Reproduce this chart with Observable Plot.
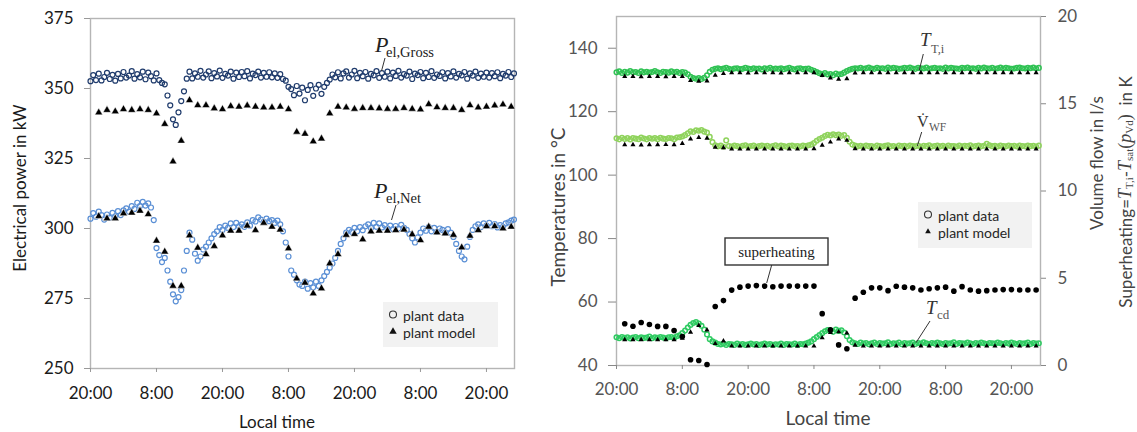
<!DOCTYPE html>
<html><head><meta charset="utf-8">
<script src="https://cdn.jsdelivr.net/npm/d3@7"></script>
<script src="https://cdn.jsdelivr.net/npm/@observablehq/plot@0.6"></script>
<style>
body{margin:0;background:#fff;}
#wrap{position:relative;width:1137px;height:432px;overflow:hidden;font-family:Lato,sans-serif;background:#fff;}
#left{position:absolute;left:0;top:0;}
#right{position:absolute;left:540px;top:0;}
svg{overflow:visible;}
</style></head><body><div id="wrap"><div id="left"></div><div id="right"></div></div>
<script>
// ---------------- DATA ----------------
const dataStep = 0.5;   // hours between plant-data samples (start 20:00)
const modelStep = 1.5;  // hours between plant-model points
const tickHours = [0, 12, 24, 36, 48, 60, 72];
const tickLabels = ["20:00", "8:00", "20:00", "8:00", "20:00", "8:00", "20:00"];
const powerTicks = [250, 275, 300, 325, 350, 375];
const tempTicks = [40, 60, 80, 100, 120, 140];
const flowTicks = [0, 5, 10, 15, 20];
const flowDomain = [0, 20];
const tempDomain = [40, 150];

// Left panel: electrical power (kW)
const grossData = [352.6,354.8,353.0,355.3,352.9,354.1,355.6,353.4,354.9,352.8,
355.2,353.6,355.9,353.9,354.6,356.2,353.5,355.1,354.0,356.0,
353.3,355.7,354.4,352.9,355.4,353.0,
352.0,351.5,347.5,344.0,339.0,337.0,341.5,345.5,349.0,353.5,
356.0,353.6,355.4,354.2,356.3,353.9,355.0,356.1,353.7,355.5,354.3,356.4,353.8,355.2,354.6,356.0,353.5,355.7,354.1,355.9,
354.4,356.2,353.6,355.3,354.8,356.0,353.9,355.6,354.2,355.8,354.0,355.4,353.8,355.1,
353.4,352.8,350.6,349.8,347.6,350.9,348.2,350.3,345.8,349.5,351.2,347.4,350.0,351.3,348.1,350.6,352.0,353.2,355.0,
354.0,355.8,353.6,355.4,356.1,353.9,355.0,356.3,353.7,355.6,
354.4,355.9,353.5,355.2,354.7,356.2,353.8,355.5,354.2,356.0,
353.6,355.7,354.5,356.3,353.9,355.1,354.6,356.0,353.4,355.3,
354.8,355.9,353.7,355.6,354.1,356.2,353.8,355.0,354.5,355.8,
353.6,355.5,354.3,356.1,353.9,355.2,354.7,355.9,353.5,355.4,
354.6,356.0,353.8,355.3,354.2,355.7,353.9,355.5,354.4,355.8,
353.7,355.2,354.6,355.9,354.1,355.4];
const netData = [303.5,305.5,304.2,306.0,304.8,303.2,305.0,303.8,305.6,304.3,
306.2,304.8,306.5,307.2,306.0,308.0,307.0,309.2,308.0,309.5,
308.2,309.0,307.5,303.0,293.0,290.5,288.0,289.5,285.0,281.0,
276.5,274.0,275.5,278.0,285.0,292.0,298.5,296.0,291.0,288.5,
290.0,292.5,293.5,295.0,296.5,298.0,299.0,300.5,299.5,301.0,
300.2,301.8,300.5,302.0,300.8,301.5,300.6,302.2,301.0,303.0,
302.5,304.0,303.2,302.4,303.5,302.6,303.0,302.0,302.8,301.5,
299.0,295.0,290.0,285.0,283.5,281.5,280.0,279.5,281.0,278.5,
280.5,279.0,281.0,279.5,281.5,283.0,284.5,286.0,287.5,289.5,
292.0,294.5,296.5,298.5,299.5,298.8,300.2,299.0,300.5,299.4,
300.8,301.5,300.2,302.0,300.6,301.8,300.4,301.2,300.0,301.0,
299.8,300.9,300.0,301.3,300.2,299.5,298.0,296.5,295.0,296.8,
298.5,300.0,299.2,300.5,299.0,300.2,298.8,300.0,299.5,298.6,
299.8,298.5,297.0,294.5,292.0,290.0,289.0,293.5,297.0,299.5,
300.8,301.5,300.5,301.8,301.0,302.0,300.8,301.6,300.4,301.2,
300.6,301.8,302.2,302.8,303.2];
const grossModel = [341.4,342.3,341.8,342.6,342.3,342.6,342.3,341.1,337.3,323.9,
331.3,345.8,344.0,344.0,342.9,342.6,343.7,343.5,343.9,343.5,
343.2,343.2,343.5,342.6,334.5,333.8,331.1,332.1,341.1,343.5,
343.2,342.7,343.0,343.0,342.9,342.7,342.7,343.0,342.7,342.5,
344.4,343.3,343.0,343.0,342.3,344.0,343.2,343.5,343.9,344.3,343.5];
const netModel = [304.4,303.6,303.6,305.4,305.6,306.3,305.1,295.6,291.7,279.5,
279.5,297.5,293.1,290.8,293.7,297.5,299.2,299.2,301.0,299.4,
302.0,300.6,299.6,292.9,282.1,280.6,276.8,278.6,287.5,290.8,
297.7,298.0,296.1,298.9,299.2,299.2,299.4,299.6,297.9,295.8,
300.6,298.6,298.2,297.7,293.2,297.4,299.4,300.8,300.8,300.0,300.6];

// Right panel: temperatures (°C), volume flow (l/s), superheating (K)
const ttiData = [132.4,132.7,132.2,132.6,132.3,132.8,132.4,132.5,132.2,132.7,132.4,132.6,132.3,132.5,132.8,132.4,132.2,132.6,132.5,132.3,132.7,132.4,132.6,132.2,132.5,132.3,
131.8,131.0,130.6,130.4,130.6,130.3,130.7,131.5,132.6,133.2,
133.5,133.7,133.4,133.6,133.8,133.5,133.3,133.6,133.7,133.4,133.5,133.8,133.6,133.4,133.7,133.5,133.6,133.3,133.7,133.5,133.8,133.4,133.6,133.5,133.7,133.4,133.6,133.8,133.5,133.3,133.6,133.7,133.4,133.5,133.6,133.2,132.9,
132.5,132.1,131.8,132.2,131.7,131.9,131.5,132.0,131.7,131.9,132.3,132.8,133.2,
133.5,133.7,133.6,133.8,133.5,133.7,133.9,133.6,133.5,133.8,133.6,133.7,133.5,133.9,133.6,133.8,133.7,133.5,133.6,133.8,
133.7,133.9,133.6,133.5,133.8,133.7,133.6,133.9,133.5,133.7,133.8,133.6,133.7,133.5,133.9,133.6,133.8,133.7,133.6,133.5,
133.8,133.7,133.9,133.6,133.7,133.5,133.8,133.6,133.9,133.7,133.6,133.8,133.5,133.7,133.9,133.6,133.8,133.7,133.5,133.6,
133.8,133.9,133.7,133.6,133.8,133.7,133.9,133.6,133.8];
const vwfData = [13.02,12.96,13.05,12.98,13.03,12.95,13.04,13.00,12.97,13.06,13.01,12.96,13.04,12.99,13.03,12.97,13.05,13.00,12.98,13.04,13.02,12.97,13.06,13.08,13.12,
13.20,13.30,13.42,13.38,13.48,13.45,13.50,13.40,13.35,13.10,12.80,
12.62,12.56,12.60,12.54,12.90,12.58,12.55,12.61,12.57,12.53,12.59,12.62,12.55,12.58,12.60,12.54,12.57,12.61,12.56,12.59,12.53,12.58,12.62,12.55,12.60,12.57,12.54,12.59,12.61,12.56,12.58,12.55,12.60,12.57,12.62,12.66,
12.75,12.88,12.98,13.05,13.15,13.22,13.18,13.25,13.20,13.24,13.16,13.20,13.05,12.82,12.66,
12.60,12.56,12.59,12.55,12.61,12.57,12.58,12.54,12.60,12.57,12.55,12.59,12.62,12.56,12.58,12.54,12.60,12.57,12.59,12.55,
12.61,12.58,12.56,12.60,12.54,12.59,12.57,12.62,12.55,12.58,12.60,12.56,12.59,12.54,12.61,12.57,12.58,12.55,12.60,12.56,
12.59,12.57,12.62,12.55,12.58,12.60,12.56,12.59,12.70,12.62,12.57,12.59,12.55,12.60,12.58,12.56,12.61,12.57,12.59,12.55,
12.60,12.58,12.56,12.61,12.57,12.59,12.55,12.60];
const tcdData = [48.9,48.6,49.0,48.7,48.9,48.5,48.8,49.0,48.6,48.9,48.7,48.8,49.1,48.6,48.9,48.7,49.0,48.8,48.6,48.9,49.0,48.7,49.2,49.5,50.2,
51.0,52.0,52.8,53.4,53.7,53.2,52.5,51.3,49.8,48.3,47.6,
47.2,46.8,46.6,46.9,46.5,46.8,46.7,46.5,46.9,46.6,46.8,46.5,46.7,46.9,46.6,46.8,46.5,46.7,46.9,46.6,46.8,46.5,46.7,46.6,46.9,46.5,46.8,46.7,46.6,46.9,46.5,46.8,46.7,46.9,47.2,47.6,
48.3,49.0,49.6,50.2,50.8,51.2,51.0,50.6,51.3,50.9,51.1,50.4,49.2,48.0,47.3,
47.0,46.8,47.2,46.9,47.1,46.7,47.0,47.2,46.8,47.1,46.9,47.0,47.3,46.8,47.0,46.9,47.2,46.7,47.1,46.9,
47.0,47.2,46.8,47.1,46.9,47.3,47.0,46.8,47.1,46.9,47.2,47.0,46.8,47.1,46.9,47.0,47.3,46.8,47.1,47.0,
46.9,47.2,47.0,46.8,47.1,46.9,47.2,47.0,46.8,47.1,47.0,46.9,47.2,47.0,46.8,47.1,46.9,47.2,47.0,46.8,
47.1,46.9,47.0,47.2,46.8,47.1,46.9,47.0];
const ttiModel = [131.1,131.1,131.0,131.1,131.1,131.0,131.1,131.1,129.8,129.6,
129.7,131.5,132.0,132.3,132.3,132.2,132.3,132.3,132.3,132.2,
132.3,132.3,132.3,132.3,131.4,130.6,130.2,130.4,132.2,132.3,
132.3,132.3,132.3,132.3,132.3,132.3,132.3,132.3,132.3,132.3,
132.3,132.3,132.3,132.3,132.3,132.3,132.3,132.3,132.3,132.3,132.3];
const vwfModel = [12.65,12.65,12.64,12.65,12.65,12.66,12.65,12.72,12.98,13.07,
13.02,12.51,12.48,12.40,12.40,12.40,12.40,12.40,12.40,12.40,
12.40,12.40,12.40,12.42,12.62,12.80,12.98,12.90,12.42,12.40,
12.40,12.40,12.40,12.40,12.40,12.40,12.40,12.40,12.40,12.40,
12.40,12.40,12.40,12.40,12.40,12.40,12.40,12.40,12.40,12.40,12.40];
const tcdModel = [48.1,48.1,48.1,48.1,48.1,48.1,48.1,48.6,50.5,52.6,
51.2,46.9,47.7,46.1,46.1,46.1,46.1,46.1,46.1,46.1,
46.1,46.1,46.1,46.1,48.7,50.4,50.6,50.2,46.4,46.1,
46.1,46.1,46.1,46.1,46.1,46.1,46.1,46.1,46.1,46.1,
46.1,46.1,46.1,46.1,46.1,46.1,46.1,46.1,46.1,46.1,46.1];
const superheat = [2.39,2.25,2.46,2.35,2.24,2.24,2.01,1.66,0.33,0.29,
0.06,3.38,3.72,4.32,4.49,4.55,4.58,4.55,4.51,4.55,
4.55,4.55,4.55,4.55,2.97,2.04,1.18,0.96,3.86,4.20,
4.45,4.45,4.29,4.54,4.49,4.45,4.33,4.40,4.45,4.49,
4.26,4.52,4.33,4.26,4.29,4.33,4.35,4.35,4.33,4.33,4.33];

// ---------------- HELPERS ----------------
const dataRows = arr => arr.map((v, i) => ({t: i * dataStep, v}));
const modelRows = arr => arr.map((v, i) => ({t: (i + 1) * modelStep, v}));
// secondary (right) axis value -> primary temperature scale
const flowToTemp = v => tempDomain[0] + (v - flowDomain[0]) * (tempDomain[1] - tempDomain[0]) / (flowDomain[1] - flowDomain[0]);
const tickFmt = d => tickLabels[tickHours.indexOf(d)];
const SANS = "Lato, 'DejaVu Sans', sans-serif";
const SERIF = "'Liberation Serif', 'DejaVu Serif', serif";

function txt(svg, x, y, str, o = {}) {
  const t = svg.append("text").attr("x", x).attr("y", y).text(str)
    .attr("font-family", o.family || SANS)
    .attr("font-size", o.size || 17)
    .attr("fill", o.fill || "#222")
    .attr("text-anchor", o.anchor || "start");
  if (o.italic) t.attr("font-style", "italic");
  if (o.baseline) t.attr("dominant-baseline", o.baseline);
  if (o.rotate) t.attr("transform", `rotate(${o.rotate},${x},${y})`);
  return t;
}
function line(svg, x1, y1, x2, y2, c = "#333", w = 1) {
  svg.append("line").attr("x1", x1).attr("y1", y1).attr("x2", x2).attr("y2", y2)
    .attr("stroke", c).attr("stroke-width", w);
}
function legend(svg, x, y, w, h, triSize) {
  svg.append("rect").attr("x", x).attr("y", y).attr("width", w).attr("height", h).attr("fill", "#f2f2f2");
  svg.append("circle").attr("cx", x + 10).attr("cy", y + 12.5).attr("r", 3.5)
    .attr("fill", "none").attr("stroke", "#333").attr("stroke-width", 1.1);
  svg.append("path").attr("d", d3.symbol(d3.symbolTriangle, triSize)())
    .attr("transform", `translate(${x + 10},${y + 29.5})`).attr("fill", "#111");
  txt(svg, x + 20, y + 13, "plant data", {size: 14, baseline: "central", fill: "#262626"});
  txt(svg, x + 20, y + 30, "plant model", {size: 14, baseline: "central", fill: "#262626"});
}

// ---------------- LEFT PANEL ----------------
const leftChart = Plot.plot({
  width: 540, height: 432,
  marginLeft: 90, marginRight: 26, marginTop: 18, marginBottom: 64,
  style: {fontFamily: SANS, fontSize: "17px", background: "transparent", overflow: "visible"},
  x: {domain: [0, 77.1]},
  y: {domain: [powerTicks[0], powerTicks[powerTicks.length - 1]]},
  marks: [
    Plot.frame({stroke: "#b5b5b5", strokeWidth: 1.4}),
    Plot.dot(dataRows(grossData), {x: "t", y: "v", r: 2.5, fill: "none", stroke: "#1f3b6c", strokeWidth: 1.2}),
    Plot.dot(dataRows(netData), {x: "t", y: "v", r: 2.5, fill: "none", stroke: "#5a8fd5", strokeWidth: 1.2}),
    Plot.dot(modelRows(grossModel), {x: "t", y: "v", symbol: "triangle", r: 2.9, fill: "#000", stroke: "#fff", strokeWidth: 0.5}),
    Plot.dot(modelRows(netModel), {x: "t", y: "v", symbol: "triangle", r: 2.9, fill: "#000", stroke: "#fff", strokeWidth: 0.5}),
    Plot.axisY({ticks: powerTicks, tickSize: 6, tickPadding: 11, fontSize: 17, fill: "#1a1a1a", stroke: "#999", label: null}),
    Plot.axisX({ticks: tickHours, tickFormat: tickFmt, tickSize: 4, tickPadding: 14, fontSize: 17, fill: "#1a1a1a", stroke: "#999", label: null})
  ]
});
document.getElementById("left").appendChild(leftChart);
{
  const s = d3.select(leftChart);
  txt(s, 19, 188, "Electrical power in kW", {size: 17, anchor: "middle", baseline: "central", rotate: -90, fill: "#1a1a1a"});
  txt(s, 277, 421, "Local time", {size: 17, anchor: "middle", baseline: "central", fill: "#1a1a1a"});
  txt(s, 375, 52, "P", {family: SERIF, size: 22, italic: true, fill: "#222"});
  txt(s, 386, 57, "el,Gross", {family: SERIF, size: 14.5, fill: "#222"});
  line(s, 385, 58, 381.5, 71);
  txt(s, 374, 198, "P", {family: SERIF, size: 22, italic: true, fill: "#222"});
  txt(s, 386, 203, "el,Net", {family: SERIF, size: 14.5, fill: "#222"});
  line(s, 396, 205, 391.5, 220);
  legend(s, 383, 302, 115, 45, 24);
}

// ---------------- RIGHT PANEL ----------------
const rightChart = Plot.plot({
  width: 597, height: 432,
  marginLeft: 76, marginRight: 97, marginTop: 16, marginBottom: 67,
  style: {fontFamily: SANS, fontSize: "17px", background: "transparent", overflow: "visible"},
  x: {domain: [0, 77.3]},
  y: {domain: tempDomain},
  marks: [
    Plot.frame({stroke: "#b5b5b5", strokeWidth: 1.4}),
    Plot.dot(dataRows(ttiData), {x: "t", y: "v", r: 2.3, fill: "none", stroke: "#2fc253", strokeWidth: 1.5}),
    Plot.dot(dataRows(vwfData), {x: "t", y: d => flowToTemp(d.v), r: 2.3, fill: "none", stroke: "#8fd35c", strokeWidth: 1.5}),
    Plot.dot(dataRows(tcdData), {x: "t", y: "v", r: 2.3, fill: "none", stroke: "#2fcb62", strokeWidth: 1.5}),
    Plot.dot(modelRows(ttiModel), {x: "t", y: "v", symbol: "triangle", r: 1.9, fill: "#000"}),
    Plot.dot(modelRows(vwfModel), {x: "t", y: d => flowToTemp(d.v), symbol: "triangle", r: 1.9, fill: "#000"}),
    Plot.dot(modelRows(tcdModel), {x: "t", y: "v", symbol: "triangle", r: 1.9, fill: "#000"}),
    Plot.dot(modelRows(superheat), {x: "t", y: d => flowToTemp(d.v), r: 2.8, fill: "#000"}),
    Plot.axisY({ticks: tempTicks, tickSize: 8, tickPadding: 11, fontSize: 17, fill: "#555", stroke: "#888", label: null}),
    Plot.axisY({anchor: "right", ticks: flowTicks.map(flowToTemp), tickFormat: d => String(flowTicks[flowTicks.map(flowToTemp).indexOf(d)]), tickSize: 5, tickPadding: 12, fontSize: 17, fill: "#555", stroke: "#888", label: null}),
    Plot.axisX({ticks: tickHours, tickFormat: tickFmt, tickSize: 4, tickPadding: 13, fontSize: 17, fill: "#555", stroke: "#888", label: null})
  ]
});
document.getElementById("right").appendChild(rightChart);
{
  const s = d3.select(rightChart);
  txt(s, 17, 207, "Temperatures in °C", {size: 19, anchor: "middle", baseline: "central", rotate: -90, fill: "#444"});
  txt(s, 288, 417, "Local time", {size: 19, anchor: "middle", baseline: "central", fill: "#444"});
  txt(s, 556, 163, "Volume flow in l/s", {size: 17, anchor: "middle", baseline: "central", rotate: -90, fill: "#444"});
  // Superheating = T_T,i - T_sat(p_Vd) in K
  const t = s.append("text").attr("x", 585).attr("y", 192).attr("text-anchor", "middle")
    .attr("dominant-baseline", "central").attr("transform", "rotate(-90,585,192)")
    .attr("font-family", SANS).attr("font-size", 17).attr("fill", "#444");
  t.append("tspan").text("Superheating=");
  t.append("tspan").attr("font-family", SERIF).attr("font-style", "italic").attr("font-size", 18).text("T");
  t.append("tspan").attr("font-family", SERIF).attr("font-size", 11).attr("dy", 4).text("T,i");
  t.append("tspan").attr("dy", -4).text("-");
  t.append("tspan").attr("font-family", SERIF).attr("font-style", "italic").attr("font-size", 18).text("T");
  t.append("tspan").attr("font-family", SERIF).attr("font-size", 11).attr("dy", 4).text("sat");
  t.append("tspan").attr("font-family", SERIF).attr("font-size", 18).attr("dy", -4).text("(");
  t.append("tspan").attr("font-family", SERIF).attr("font-style", "italic").attr("font-size", 18).text("p");
  t.append("tspan").attr("font-family", SERIF).attr("font-size", 11).attr("dy", 4).text("Vd");
  t.append("tspan").attr("font-family", SERIF).attr("font-size", 18).attr("dy", -4).text(")");
  t.append("tspan").text("  in K");

  txt(s, 380, 46, "T", {family: SERIF, size: 19, italic: true, fill: "#333"});
  txt(s, 391, 53, "T,i", {family: SERIF, size: 12.5, fill: "#555"});
  line(s, 383.3, 54, 379.3, 70, "#333");
  txt(s, 377, 127, "V\u0307", {family: SERIF, size: 16, fill: "#333"});
  txt(s, 389, 131, "WF", {family: SERIF, size: 11.5, fill: "#555"});
  line(s, 381.7, 132, 377.3, 146, "#333");
  txt(s, 386, 314, "T", {family: SERIF, size: 19, italic: true, fill: "#333"});
  txt(s, 397, 319, "cd", {family: SERIF, size: 13, fill: "#555"});
  line(s, 390, 321, 376, 342.7, "#333");

  s.append("rect").attr("x", 185).attr("y", 238).attr("width", 103).attr("height", 27)
    .attr("fill", "#fff").attr("stroke", "#333").attr("stroke-width", 1.4);
  txt(s, 236.5, 251.5, "superheating", {family: SERIF, size: 15, anchor: "middle", baseline: "central", fill: "#222"});
  line(s, 231.7, 265, 226.7, 283, "#333");

  legend(s, 378, 202, 114, 46, 14);
}
</script>
</body></html>
